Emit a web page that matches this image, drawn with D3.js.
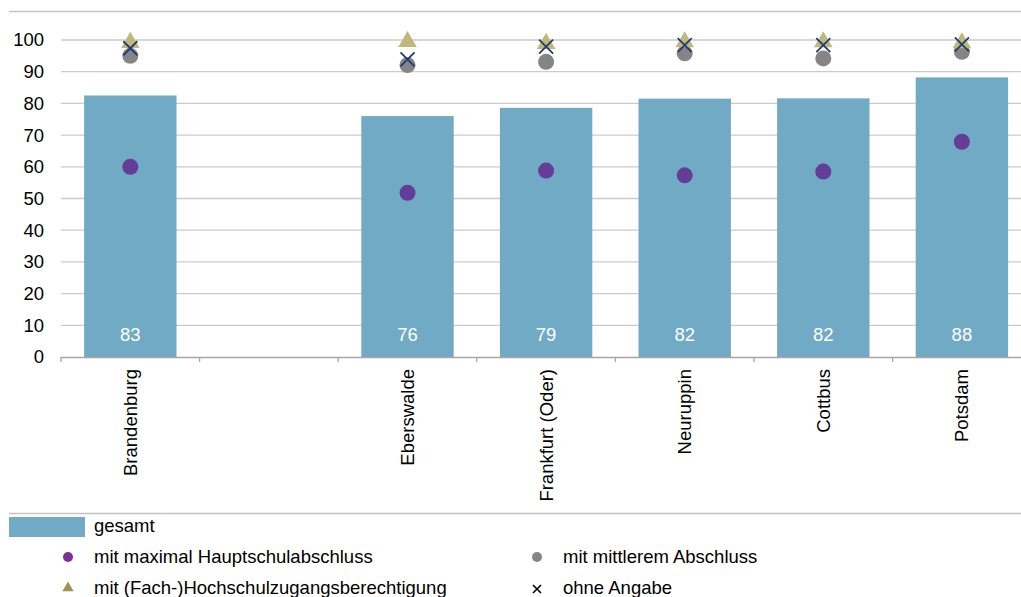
<!DOCTYPE html>
<html>
<head>
<meta charset="utf-8">
<script src="https://cdn.jsdelivr.net/npm/d3@7"></script>
<style>
  body { margin: 0; background: #fff; }
  svg { display: block; font-family: Arial, "Liberation Sans", sans-serif; }
</style>
</head>
<body>
<div id="chart"></div>
<script>
// categories (empty slot between Brandenburg and Eberswalde)
const categories = ["Brandenburg", "", "Eberswalde", "Frankfurt (Oder)", "Neuruppin", "Cottbus", "Potsdam"];

// series values (null = no value)
const gesamt        = [82.5, null, 76.0, 78.6, 81.5, 81.6, 88.2];
const gesamtLabels  = ["83", null, "76", "79", "82", "82", "88"];
const hauptschule   = [60.0, null, 51.8, 58.8, 57.3, 58.5, 67.9];
const mittlerer     = [95.0, null, 92.1, 93.1, 95.8, 94.2, 96.3];
const hochschule    = [99.5, null, 99.8, 99.2, 99.7, 99.7, 99.4];
const ohneAngabe    = [97.4, null, 93.9, 97.9, 98.4, 98.4, 98.6];

const yTicks = [0, 10, 20, 30, 40, 50, 60, 70, 80, 90, 100];

const W = 1021, H = 597;
const FS = 18.5;
const svg = d3.select("#chart").append("svg")
    .attr("width", W)
    .attr("height", H);

// scales
const x = d3.scaleBand()
    .domain(d3.range(categories.length))
    .range([61, 61 + 7 * 138.6])
    .padding(0);

const y = d3.scaleLinear()
    .domain([0, 100])
    .range([357, 40]);

const bw = x.bandwidth() * 2 / 3;
const cx = i => x(i) + x.bandwidth() / 2;

// top rule
svg.append("line")
    .attr("x1", 9).attr("x2", W)
    .attr("y1", 11.5).attr("y2", 11.5)
    .attr("stroke", "#c4c4c4").attr("stroke-width", 1.5);

// gridlines
svg.append("g")
    .selectAll("line")
    .data(yTicks.filter(d => d > 0))
    .enter()
    .append("line")
    .attr("x1", 61).attr("x2", W)
    .attr("y1", d => y(d)).attr("y2", d => y(d))
    .attr("stroke", "#cbcbcb").attr("stroke-width", 1.3);

// y axis labels
svg.append("g")
    .selectAll("text")
    .data(yTicks)
    .enter()
    .append("text")
    .attr("x", 44)
    .attr("y", d => y(d))
    .attr("dy", "0.35em")
    .attr("text-anchor", "end")
    .attr("font-size", FS)
    .attr("fill", "#000")
    .text(d => d);

// bars
svg.append("g")
    .selectAll("rect")
    .data(gesamt.map((v, i) => ({ v, i })).filter(d => d.v != null))
    .enter()
    .append("rect")
    .attr("x", d => x(d.i) + (x.bandwidth() - bw) / 2)
    .attr("y", d => y(d.v))
    .attr("width", bw)
    .attr("height", d => y(0) - y(d.v))
    .attr("fill", "#70aac4");

// bar labels
svg.append("g")
    .selectAll("text")
    .data(gesamtLabels.map((t, i) => ({ t, i })).filter(d => d.t != null))
    .enter()
    .append("text")
    .attr("x", d => cx(d.i))
    .attr("y", 335)
    .attr("dy", "0.35em")
    .attr("text-anchor", "middle")
    .attr("font-size", FS)
    .attr("fill", "#fff")
    .text(d => d.t);

// x axis
const axisY = y(0);
svg.append("line")
    .attr("x1", 61).attr("x2", W)
    .attr("y1", axisY + 0.5).attr("y2", axisY + 0.5)
    .attr("stroke", "#a6a6a6").attr("stroke-width", 1.3);

svg.append("g")
    .selectAll("line")
    .data(d3.range(categories.length + 1))
    .enter()
    .append("line")
    .attr("x1", i => 61 + i * x.step())
    .attr("x2", i => 61 + i * x.step())
    .attr("y1", axisY)
    .attr("y2", axisY + 5)
    .attr("stroke", "#a6a6a6").attr("stroke-width", 1.3);

svg.append("g")
    .selectAll("text")
    .data(categories.map((c, i) => ({ c, i })).filter(d => d.c))
    .enter()
    .append("text")
    .attr("transform", d => `translate(${cx(d.i)},${axisY + 12}) rotate(-90)`)
    .attr("dy", "0.35em")
    .attr("text-anchor", "end")
    .attr("font-size", FS)
    .attr("fill", "#000")
    .text(d => d.c);

// point series
const pts = arr => arr.map((v, i) => ({ v, i })).filter(d => d.v != null);

svg.append("g")
    .selectAll("circle")
    .data(pts(hauptschule))
    .enter()
    .append("circle")
    .attr("cx", d => cx(d.i))
    .attr("cy", d => y(d.v))
    .attr("r", 8)
    .attr("fill", "#663c99");

svg.append("g")
    .selectAll("circle")
    .data(pts(mittlerer))
    .enter()
    .append("circle")
    .attr("cx", d => cx(d.i))
    .attr("cy", d => y(d.v))
    .attr("r", 8)
    .attr("fill", "#858585");

const tri = d3.symbol().type(d3.symbolTriangle).size(150);
svg.append("g")
    .selectAll("path")
    .data(pts(hochschule))
    .enter()
    .append("path")
    .attr("d", tri)
    .attr("transform", d => `translate(${cx(d.i)},${y(d.v) + 1})`)
    .attr("fill", "#bfb879");

const s = 7;
svg.append("g")
    .selectAll("path")
    .data(pts(ohneAngabe))
    .enter()
    .append("path")
    .attr("d", d => {
        const px = cx(d.i), py = y(d.v);
        return `M${px - s},${py - s}L${px + s},${py + s}M${px - s},${py + s}L${px + s},${py - s}`;
    })
    .attr("stroke", "#1f3c78")
    .attr("stroke-width", 1.8)
    .attr("fill", "none");

// legend
const legend = svg.append("g");

legend.append("line")
    .attr("x1", 9).attr("x2", W)
    .attr("y1", 513.5).attr("y2", 513.5)
    .attr("stroke", "#c4c4c4").attr("stroke-width", 1.5);

legend.append("rect")
    .attr("x", 9).attr("y", 517)
    .attr("width", 76).attr("height", 20)
    .attr("fill", "#70aac4");

const legendItems = [
    { label: "gesamt", x: 94, y: 526 },
    { label: "mit maximal Hauptschulabschluss", x: 94, y: 557 },
    { label: "mit mittlerem Abschluss", x: 563, y: 557 },
    { label: "mit (Fach-)Hochschulzugangsberechtigung", x: 94, y: 588 },
    { label: "ohne Angabe", x: 563, y: 588 }
];

legend.selectAll("text")
    .data(legendItems)
    .enter()
    .append("text")
    .attr("x", d => d.x)
    .attr("y", d => d.y)
    .attr("dy", "0.35em")
    .attr("font-size", FS)
    .attr("fill", "#000")
    .text(d => d.label);

legend.append("circle").attr("cx", 68).attr("cy", 557).attr("r", 5).attr("fill", "#7b2f9a");
legend.append("circle").attr("cx", 537).attr("cy", 557).attr("r", 5).attr("fill", "#858585");
legend.append("path")
    .attr("d", d3.symbol().type(d3.symbolTriangle).size(55))
    .attr("transform", "translate(68,588)")
    .attr("fill", "#9c9550");
legend.append("path")
    .attr("d", "M533,585L541,593M533,593L541,585")
    .attr("stroke", "#000").attr("stroke-width", 1.6);
</script>
</body>
</html>
